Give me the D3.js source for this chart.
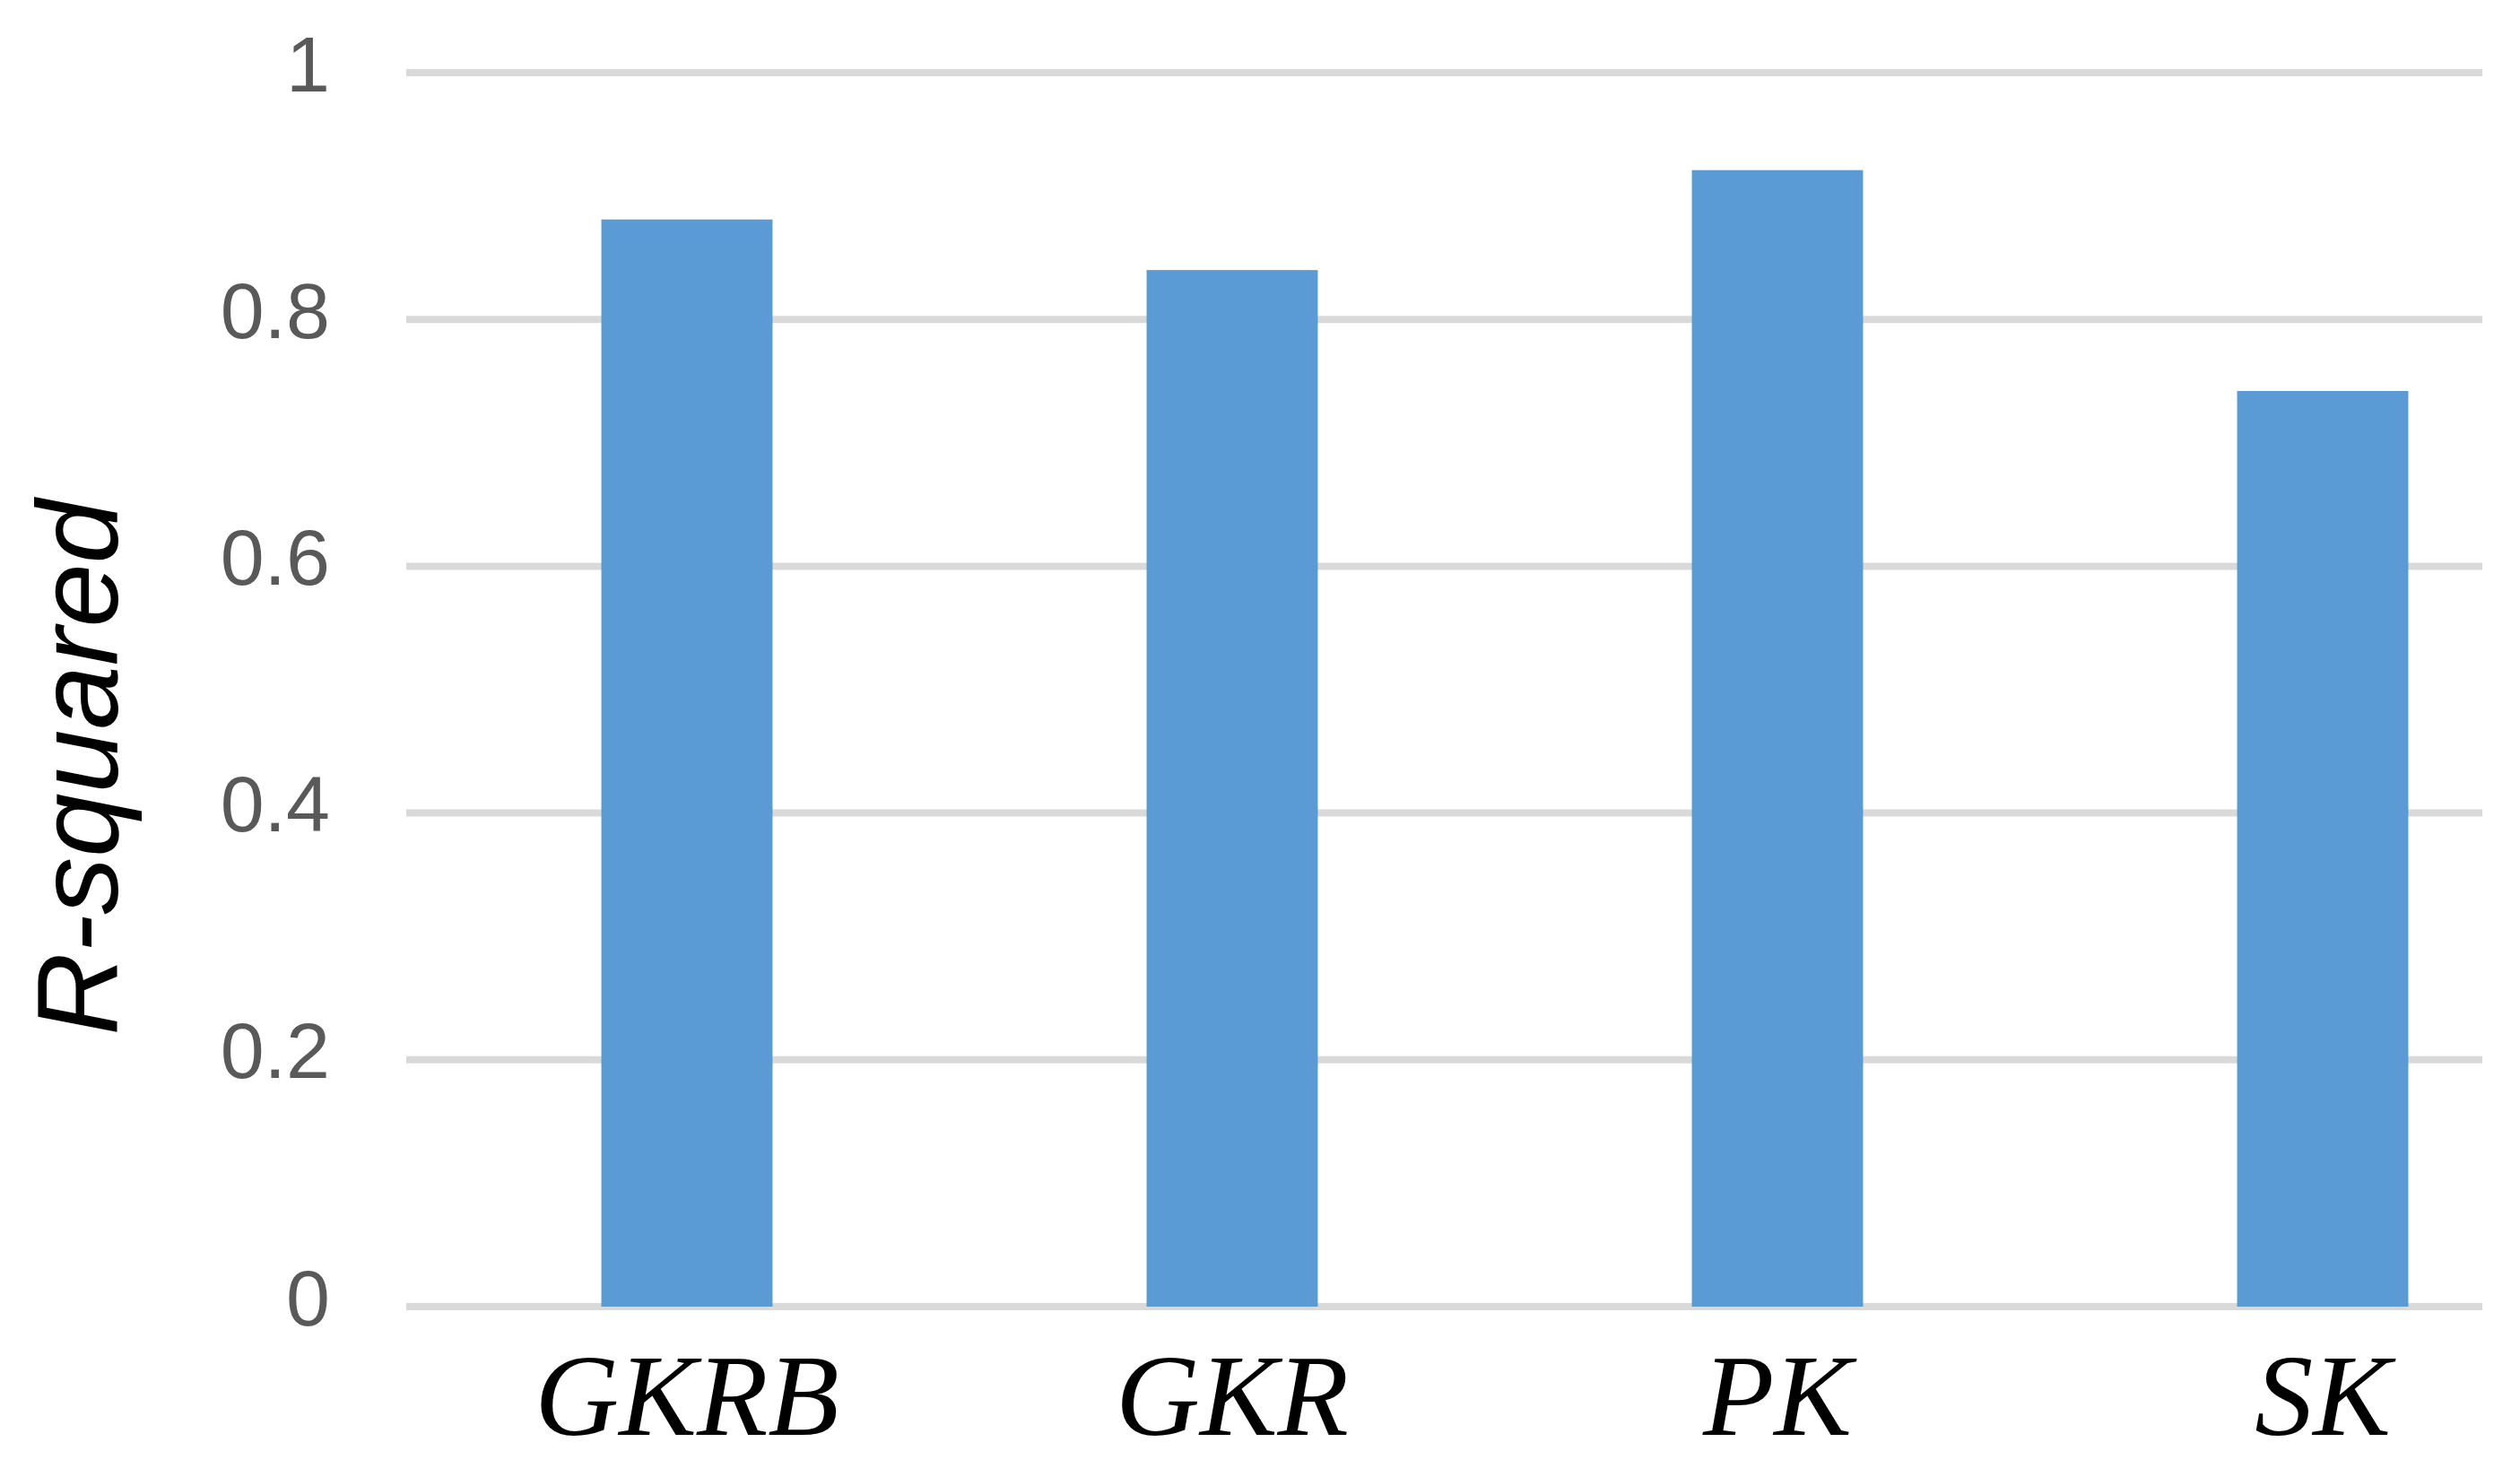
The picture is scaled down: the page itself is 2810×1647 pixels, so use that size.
<!DOCTYPE html>
<html>
<head>
<meta charset="utf-8">
<script src="https://cdn.jsdelivr.net/npm/d3@7"></script>
<style>
  body { margin: 0; background: #fff; }
  svg { display: block; }
</style>
</head>
<body>
<div id="chart"></div>
<script>
var categories = ["GKRB", "GKR", "PK", "SK"];
var rSquared = [0.881, 0.840, 0.921, 0.742];
var yTicks = [0, 0.2, 0.4, 0.6, 0.8, 1];

var width = 2810
var height = 1647

var svg = d3.select("#chart")
    .append("svg")
        .attr("width", width)
        .attr("height", height)

// scales
var x = d3.scaleBand()
    .domain(categories)
    .range([462, 2894])
    .paddingInner(0.686)
    .paddingOuter(0.343)

var y = d3.scaleLinear()
    .domain([0, 1])
    .range([1457, 81])

// gridlines (the plot area is cut off on the right, as in the picture)
var gridLeft = 453
var gridRight = 2768

svg.append("g")
    .selectAll("line")
    .data(yTicks)
    .enter()
    .append("line")
        .attr("x1", gridLeft)
        .attr("x2", gridRight)
        .attr("y1", function(d){ return y(d) })
        .attr("y2", function(d){ return y(d) })
        .attr("stroke", "#d9d9d9")
        .attr("stroke-width", 8)

// y axis tick labels
var yAxis = d3.axisLeft(y)
    .tickValues(yTicks)
    .tickFormat(function(d){ return d3.format("")(d) })
    .tickSize(0)
    .tickPadding(0)

var gy = svg.append("g")
    .attr("transform", "translate(368,0)")
    .call(yAxis)
gy.select(".domain").remove()
gy.selectAll("text")
    .attr("dy", null)
    .attr("y", 20)
    .attr("fill", "#595959")
    .style("font-family", "'Liberation Sans', Arial, sans-serif")
    .style("font-size", "88px")

// bars
svg.append("g")
    .selectAll("rect")
    .data(categories)
    .enter()
    .append("rect")
        .attr("x", function(d){ return x(d) })
        .attr("width", x.bandwidth())
        .attr("y", function(d, i){ return y(rSquared[i]) })
        .attr("height", function(d, i){ return y(0) - y(rSquared[i]) })
        .attr("fill", "#5b9bd5")

// category labels
var xAxis = d3.axisBottom(x)
    .tickSize(0)
    .tickPadding(0)

var gx = svg.append("g")
    .attr("transform", "translate(0,1600)")
    .call(xAxis)
gx.select(".domain").remove()
gx.selectAll("text")
    .attr("y", 0)
    .attr("dy", null)
    .attr("fill", "#000")
    .style("font-family", "'Liberation Serif', 'Times New Roman', serif")
    .style("font-style", "italic")
    .style("font-size", "130px")

// y axis title
svg.append("text")
    .attr("transform", "translate(131,856) rotate(-90)")
    .attr("text-anchor", "middle")
    .attr("fill", "#000")
    .style("font-family", "'Liberation Sans', Arial, sans-serif")
    .style("font-style", "italic")
    .style("font-size", "128px")
    .text("R-squared")
</script>
</body>
</html>
